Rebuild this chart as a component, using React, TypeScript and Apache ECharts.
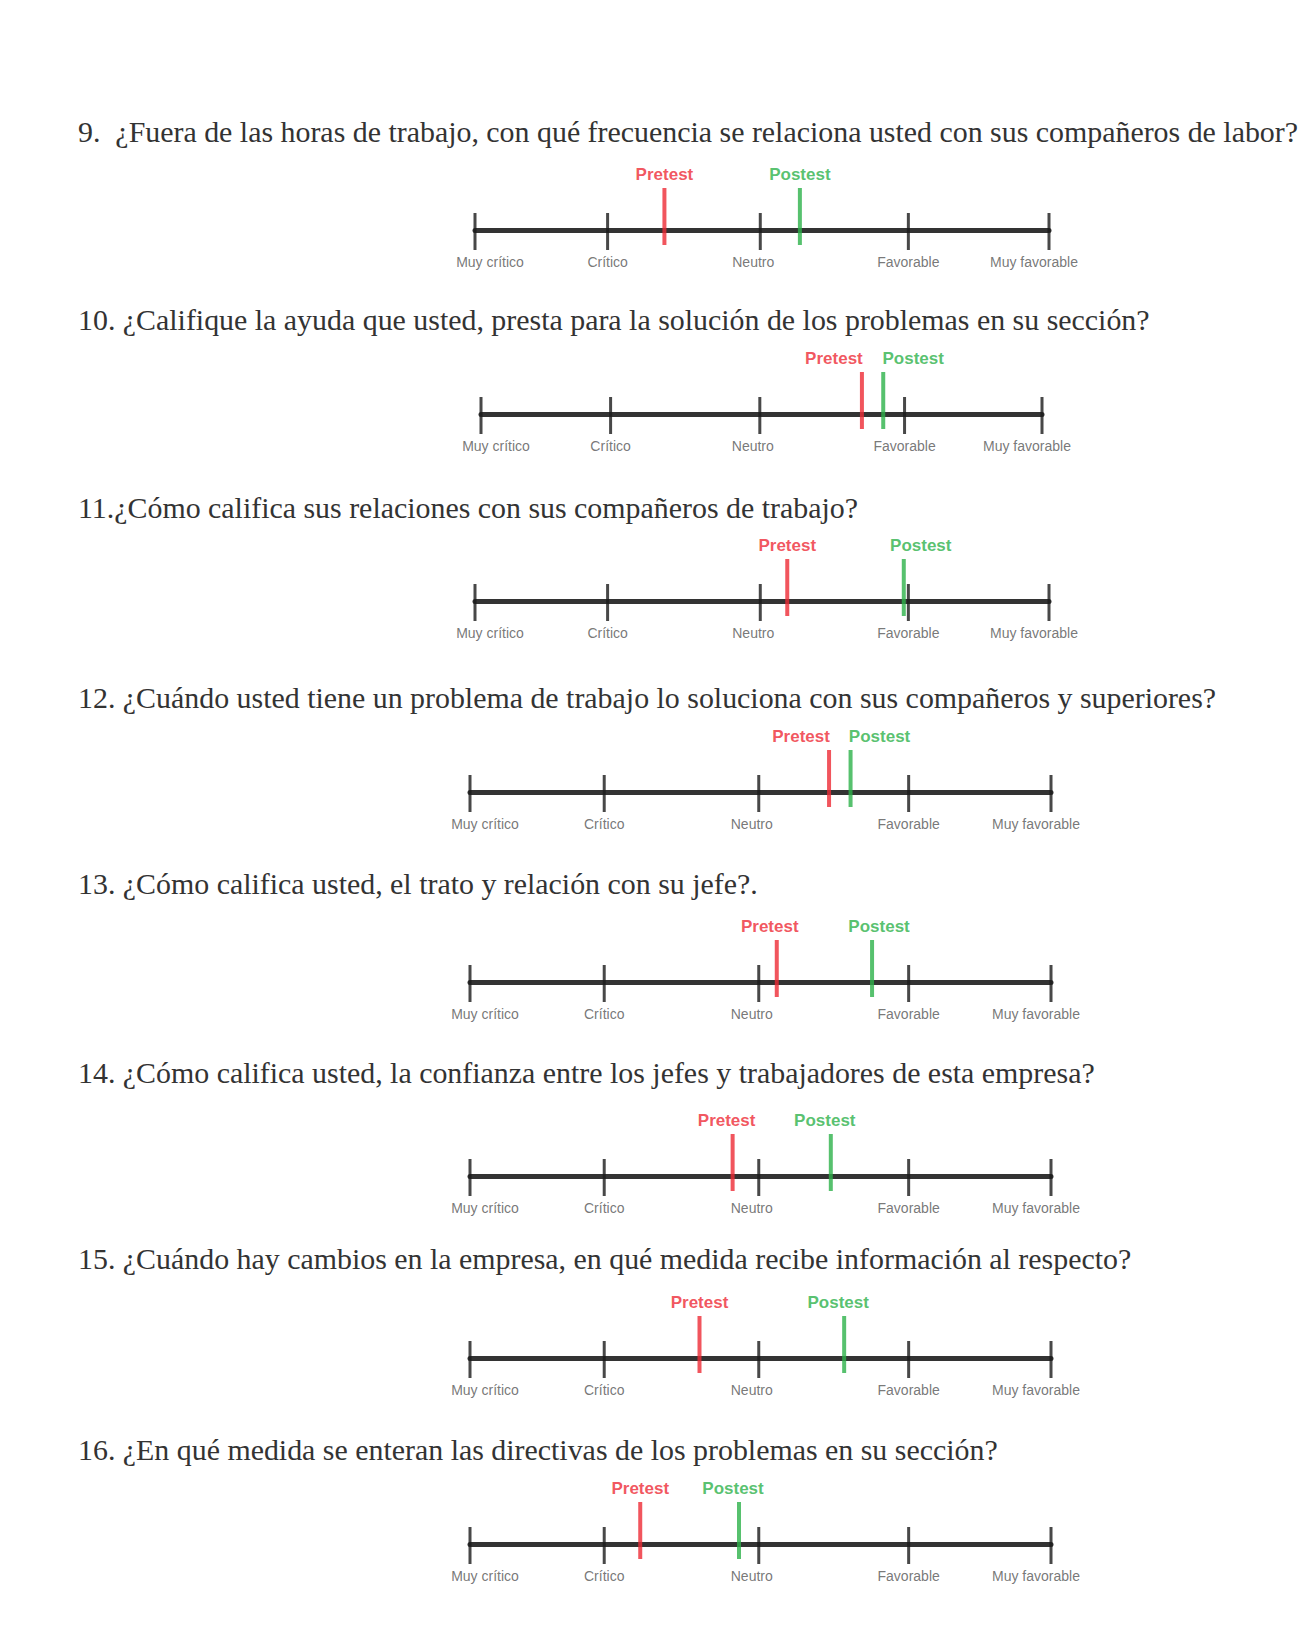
import React, { useEffect, useRef } from "react";
import * as echarts from "echarts";

// ---------- data ----------
const questions = [
  "9.  ¿Fuera de las horas de trabajo, con qué frecuencia se relaciona usted con sus compañeros de labor?",
  "10. ¿Califique la ayuda que usted, presta para la solución de los problemas en su sección?",
  "11.¿Cómo califica sus relaciones con sus compañeros de trabajo?",
  "12. ¿Cuándo usted tiene un problema de trabajo lo soluciona con sus compañeros y superiores?",
  "13. ¿Cómo califica usted, el trato y relación con su jefe?.",
  "14. ¿Cómo califica usted, la confianza entre los jefes y trabajadores de esta empresa?",
  "15. ¿Cuándo hay cambios en la empresa, en qué medida recibe información al respecto?",
  "16. ¿En qué medida se enteran las directivas de los problemas en su sección?",
];
const tickLabels = ["Muy crítico", "Crítico", "Neutro", "Favorable", "Muy favorable"];
const tickPositions = [0, 23.1, 49.7, 75.5, 100];
const pretest = [33.0, 67.9, 54.4, 61.8, 52.8, 45.2, 39.5, 29.3];
const postest = [56.6, 71.7, 74.7, 65.5, 69.2, 62.1, 64.4, 46.3];
const seriesNames = ["Pretest", "Postest"];

// ---------- layout ----------
const titleY = [128, 316, 504, 694, 880, 1069, 1255, 1446];
const axisY = [230, 414, 601, 792, 982, 1176, 1358, 1544];
const axisLeft = [475, 481, 475, 470, 470, 470, 470, 470];
const axisRight = [1049, 1042, 1049, 1051, 1051, 1051, 1051, 1051];
const tickLabelDx = [15, 0, -7, 0, -15];
const preDx = [0, -28, 0, -28, -7, -6, 0, 0];
const postDx = [0, 30, 17, 29, 7, -6, -6, -6];
const RED = "#ee2a35";
const GREEN = "#2db14a";

export default function App() {
  const ref = useRef<HTMLDivElement>(null);
  useEffect(() => {
    if (!ref.current) return;
    const chart = echarts.init(ref.current, null, { renderer: "svg" });
    const title: any[] = [];
    const grid: any[] = [];
    const xAxis: any[] = [];
    const yAxis: any[] = [];
    const series: any[] = [];
    questions.forEach((q, i) => {
      title.push({
        text: q,
        left: 73,
        top: titleY[i] - 17,
        textStyle: {
          fontFamily: "Liberation Serif",
          fontSize: 29.9,
          fontWeight: "normal",
          color: "#333",
        },
      });
      grid.push({
        left: axisLeft[i],
        width: axisRight[i] - axisLeft[i],
        top: axisY[i] - 60,
        height: 120,
      });
      xAxis.push({
        type: "value",
        gridIndex: i,
        min: 0,
        max: 100,
        axisLine: { show: true, onZero: true, lineStyle: { color: "#333", width: 5 } },
        axisTick: { show: false },
        axisLabel: { show: false },
        splitLine: { show: false },
      });
      yAxis.push({ type: "value", gridIndex: i, min: -1, max: 1, show: false });
      series.push({
        type: "scatter",
        xAxisIndex: i,
        yAxisIndex: i,
        clip: false,
        symbol: "rect",
        symbolSize: [3, 37],
        symbolOffset: [0, 1.5],
        itemStyle: { color: "#1a1a1a" },
        z: 3,
        data: tickPositions.map((x, j) => ({
          value: [x, 0],
          label: {
            show: true,
            position: "bottom",
            distance: 5,
            offset: [tickLabelDx[j], 0],
            formatter: tickLabels[j],
            fontFamily: "Liberation Sans",
            fontSize: 14,
            color: "#555",
          },
        })),
      });
      [pretest, postest].forEach((vals, k) => {
        const col = k === 0 ? RED : GREEN;
        series.push({
          type: "scatter",
          name: seriesNames[k],
          xAxisIndex: i,
          yAxisIndex: i,
          clip: false,
          symbol: "rect",
          symbolSize: [4, 57],
          symbolOffset: [0, -13.5],
          itemStyle: { color: col },
          z: 2,
          label: {
            show: true,
            position: "top",
            distance: 5,
            offset: [k === 0 ? preDx[i] : postDx[i], 0],
            formatter: seriesNames[k],
            fontFamily: "Liberation Sans",
            fontWeight: "bold",
            fontSize: 17,
            color: col,
          },
          data: [[vals[i], 0]],
        });
      });
    });
    chart.setOption({
      animation: false,
      backgroundColor: "#ffffff",
      title,
      grid,
      xAxis,
      yAxis,
      series,
    });
    return () => chart.dispose();
  }, []);
  return (
    <div
      ref={ref}
      style={{ position: "absolute", left: 0, top: 0, width: 1299, height: 1640, background: "#fff" }}
    />
  );
}
